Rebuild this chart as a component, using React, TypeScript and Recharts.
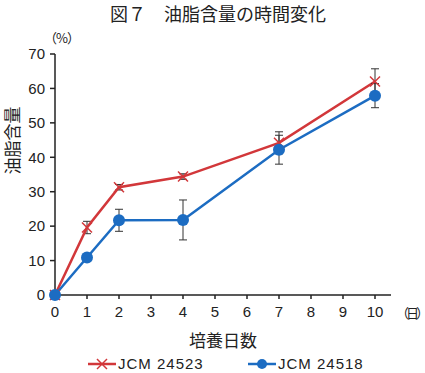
import { LineChart, Line, XAxis, YAxis, ErrorBar } from 'recharts';

const days = [0, 1, 2, 4, 7, 10];
const jcm24523 = [0, 19.6, 31.3, 34.4, 44.2, 62];
const jcm24523Err = [0, 1.8, 0.8, 0.8, 3.2, 3.7];
const jcm24518 = [0, 10.9, 21.7, 21.8, 42.2, 57.9];
const jcm24518Err = [0, 0, 3.2, 5.8, 4.2, 3.5];
const xTicks = [0, 1, 2, 3, 4, 5, 6, 7, 8, 9, 10];
const yTicks = [0, 10, 20, 30, 40, 50, 60, 70];

const RED = '#d2373a';
const BLUE = '#1c6cc2';
const FONT = '"Liberation Sans", "Noto Sans CJK JP", sans-serif';
const JP_FONT = '"Noto Sans CJK JP", sans-serif';

const data = days.map((d, i) => ({
  day: d,
  a: jcm24523[i],
  aErr: jcm24523Err[i],
  b: jcm24518[i],
  bErr: jcm24518Err[i],
}));

function CrossDot(props: any) {
  const { cx, cy } = props;
  if (cx == null || cy == null) return null;
  const s = 5;
  return (
    <g>
      <line x1={cx - s} y1={cy - s} x2={cx + s} y2={cy + s} stroke={RED} strokeWidth={1.5} />
      <line x1={cx - s} y1={cy + s} x2={cx + s} y2={cy - s} stroke={RED} strokeWidth={1.5} />
    </g>
  );
}

function ChartLegend() {
  const item = { display: 'flex', alignItems: 'center', position: 'absolute' as const, top: 0 };
  return (
    <div
      style={{
        position: 'absolute', left: 0, top: 355, width: 425, height: 18,
        fontFamily: FONT, fontSize: 15, letterSpacing: 1, color: '#222', lineHeight: '18px',
      }}
    >
      <div style={{ ...item, left: 88 }}>
        <svg width={30} height={14}>
          <line x1={0} y1={7} x2={28} y2={7} stroke={RED} strokeWidth={2.5} />
          <line x1={9} y1={2} x2={19} y2={12} stroke={RED} strokeWidth={1.5} />
          <line x1={9} y1={12} x2={19} y2={2} stroke={RED} strokeWidth={1.5} />
        </svg>
        <span>JCM 24523</span>
      </div>
      <div style={{ ...item, left: 248 }}>
        <svg width={30} height={14}>
          <line x1={0} y1={7} x2={28} y2={7} stroke={BLUE} strokeWidth={2.5} />
          <circle cx={14} cy={7} r={5} fill={BLUE} />
        </svg>
        <span>JCM 24518</span>
      </div>
    </div>
  );
}

export default function App() {
  return (
    <div style={{ position: 'absolute', left: 0, top: 0, width: 425, height: 373, background: '#fff', overflow: 'hidden' }}>
      <div
        style={{
          position: 'absolute', left: 110, top: 0, whiteSpace: 'nowrap',
          fontFamily: JP_FONT, fontSize: 18, color: '#222', lineHeight: '26px',
        }}
      >
        図７　油脂含量の時間変化
      </div>
      <div
        style={{
          position: 'absolute', left: 44, top: 28, fontFamily: JP_FONT, fontSize: 13,
          letterSpacing: -1, color: '#222', whiteSpace: 'nowrap',
        }}
      >
        （%）
      </div>
      <div
        style={{
          position: 'absolute', left: 396, top: 303, fontFamily: JP_FONT, fontSize: 13,
          letterSpacing: -3, color: '#222', whiteSpace: 'nowrap',
        }}
      >
        （日）
      </div>
      <LineChart width={425} height={373} data={data} margin={{ top: 54, right: 34, bottom: 53, left: 10 }}>
        <XAxis
          dataKey="day"
          type="number"
          domain={[0, 10.5]}
          ticks={xTicks}
          interval={0}
          tickSize={4}
          tickMargin={7}
          stroke="#222"
          strokeWidth={1.5}
          tick={{ fill: '#222', fontSize: 15, fontFamily: FONT }}
          height={25}
          label={{ value: '培養日数', position: 'insideBottom', offset: -27, fill: '#222', fontSize: 17, fontFamily: JP_FONT }}
        />
        <YAxis
          type="number"
          domain={[0, 70]}
          ticks={yTicks}
          interval={0}
          tickSize={5}
          tickMargin={5}
          width={45}
          stroke="#222"
          strokeWidth={1.5}
          tick={{ fill: '#222', fontSize: 15, fontFamily: FONT }}
          label={{ value: '油脂含量', angle: -90, position: 'insideLeft', offset: 3, fill: '#222', fontSize: 17, fontFamily: JP_FONT }}
        />
        <Line
          dataKey="a"
          stroke={RED}
          strokeWidth={2.5}
          dot={<CrossDot />}
          activeDot={false}
          isAnimationActive={false}
        >
          <ErrorBar dataKey="aErr" direction="y" width={4} stroke="#333" strokeWidth={1} />
        </Line>
        <Line
          dataKey="b"
          stroke={BLUE}
          strokeWidth={2.5}
          dot={{ r: 6, fill: BLUE, stroke: BLUE, strokeWidth: 0 }}
          activeDot={false}
          isAnimationActive={false}
        >
          <ErrorBar dataKey="bErr" direction="y" width={4} stroke="#333" strokeWidth={1} />
        </Line>
      </LineChart>
      <ChartLegend />
    </div>
  );
}
